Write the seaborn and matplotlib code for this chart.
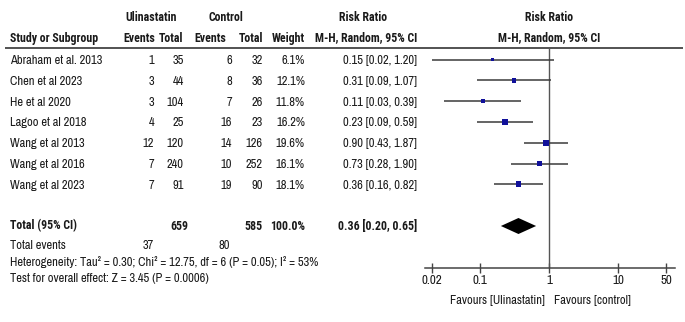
import matplotlib
matplotlib.use("Agg")
import matplotlib.pyplot as plt
import seaborn as sns
import numpy as np
import pandas as pd

# ---------------- data ----------------
studies = ["Abraham et al. 2013", "Chen et al 2023", "He et al 2020", "Lagoo et al 2018",
           "Wang et al 2013", "Wang et al 2016", "Wang et al 2023"]
uli_events = [1, 3, 3, 4, 12, 7, 7]
uli_total = [35, 44, 104, 25, 120, 240, 91]
ctl_events = [6, 8, 7, 16, 14, 10, 19]
ctl_total = [32, 36, 26, 23, 126, 252, 90]
weights = [6.1, 12.1, 11.8, 16.2, 19.6, 16.1, 18.1]
rr = [0.15, 0.31, 0.11, 0.23, 0.90, 0.73, 0.36]
rr_lo = [0.02, 0.09, 0.03, 0.09, 0.43, 0.28, 0.16]
rr_hi = [1.20, 1.07, 0.39, 0.59, 1.87, 1.90, 0.82]
pooled = (0.36, 0.20, 0.65)
tot_uli, tot_ctl = 659, 585
ev_uli, ev_ctl = 37, 80
xticks = [0.02, 0.1, 1, 10, 50]
xtick_labels = ["0.02", "0.1", "1", "10", "50"]
heterogeneity = "Heterogeneity: Tau² = 0.30; Chi² = 12.75, df = 6 (P = 0.05); I² = 53%"
overall = "Test for overall effect: Z = 3.45 (P = 0.0006)"

# ---------------- layout ----------------
sns.set_style("white")
REG = ["Archivo Narrow", "DejaVu Sans"]
BOLD = ["Roboto Condensed", "Asap Condensed", "DejaVu Sans"]
plt.rcParams["font.family"] = REG
FS = 9.0
FSB = 8.6
TXT = "#1a1a1a"
W, H = 685, 322
fig = plt.figure(figsize=(W / 100, H / 100), dpi=100)
axt = fig.add_axes([0, 0, 1, 1])
axt.set_xlim(0, W)
axt.set_ylim(H, 0)
axt.axis("off")

row_y = [59.5 + 20.8 * i for i in range(len(studies))]
y_total = 226
y_events = 245
y_het = 262
y_test = 278

def t(x, y, s, ha="left", bold=False):
    if bold:
        axt.text(x, y, s, ha=ha, va="center", fontsize=FSB, color=TXT,
                 family=BOLD, fontweight="bold")
    else:
        axt.text(x, y, s, ha=ha, va="center", fontsize=FS, color=TXT, family=REG)

# headers
t(151, 17, "Ulinastatin", "center", True)
t(226, 17, "Control", "center", True)
t(363, 17, "Risk Ratio", "center", True)
t(549, 17, "Risk Ratio", "center", True)
t(10, 38, "Study or Subgroup", "left", True)
t(155, 38, "Events", "right", True)
t(183, 38, "Total", "right", True)
t(226, 38, "Events", "right", True)
t(263, 38, "Total", "right", True)
t(305, 38, "Weight", "right", True)
t(366, 38, "M-H, Random, 95% CI", "center", True)
t(549, 38, "M-H, Random, 95% CI", "center", True)
axt.plot([5, 683], [48, 48], color="#444444", lw=1.3, solid_capstyle="butt")

# study rows
for i, s in enumerate(studies):
    y = row_y[i] + 1
    t(10, y, s)
    t(154, y, str(uli_events[i]), "right")
    t(184, y, str(uli_total[i]), "right")
    t(232, y, str(ctl_events[i]), "right")
    t(263, y, str(ctl_total[i]), "right")
    t(305, y, f"{weights[i]:.1f}%", "right")
    t(417, y, f"{rr[i]:.2f} [{rr_lo[i]:.2f}, {rr_hi[i]:.2f}]", "right")

# total rows
t(10, y_total, "Total (95% CI)", "left", True)
t(188, y_total, str(tot_uli), "right", True)
t(263, y_total, str(tot_ctl), "right", True)
t(305, y_total, "100.0%", "right", True)
t(417, y_total, f"{pooled[0]:.2f} [{pooled[1]:.2f}, {pooled[2]:.2f}]", "right", True)
t(10, y_events, "Total events")
t(154, y_events, str(ev_uli), "right")
t(230, y_events, str(ev_ctl), "right")
t(10, y_het, heterogeneity)
t(10, y_test, overall)
t(545, 300, "Favours [Ulinastatin]", "right")
t(554, 300, "Favours [control]", "left")

# ---------------- forest axes ----------------
ax_left, ax_right, ax_top, ax_bot = 425, 675, 48, 268
ax = fig.add_axes([ax_left / W, 1 - ax_bot / H, (ax_right - ax_left) / W, (ax_bot - ax_top) / H])
ax.set_xscale("log")
ax.set_xlim(10 ** -1.801, 10 ** 1.830)
ax.set_ylim(ax_bot, ax_top)
ax.patch.set_alpha(0)
for sp in ["top", "left", "right"]:
    ax.spines[sp].set_visible(False)
ax.spines["bottom"].set_color("#444444")
ax.spines["bottom"].set_linewidth(1.1)

ax.axvline(1, color="#555555", lw=1.0, zorder=1)
ax.hlines(row_y, rr_lo, rr_hi, color="#3a3a3a", lw=1.1, zorder=2)

df = pd.DataFrame({"rr": rr, "y": row_y, "w": weights})
sns.scatterplot(data=df, x="rr", y="y", size="w", sizes=(min(weights) * 0.9, max(weights) * 0.9),
                marker="s", color="#10109a", linewidth=0, legend=False, ax=ax, zorder=3)

est, lo, hi = pooled
ax.fill([lo, est, hi, est], [y_total, y_total - 8, y_total, y_total + 8], color="black", lw=0, zorder=3)

ax.set_xticks(xticks)
ax.set_xticklabels(xtick_labels, family=REG)
ax.minorticks_off()
ax.tick_params(axis="x", direction="inout", length=7, width=1.0, color="#444444",
               labelsize=FS + 0.4, labelcolor=TXT, pad=1.5, bottom=True)
ax.set_yticks([])
ax.set_xlabel("")
ax.set_ylabel("")

fig.savefig("out.png", dpi=100)
